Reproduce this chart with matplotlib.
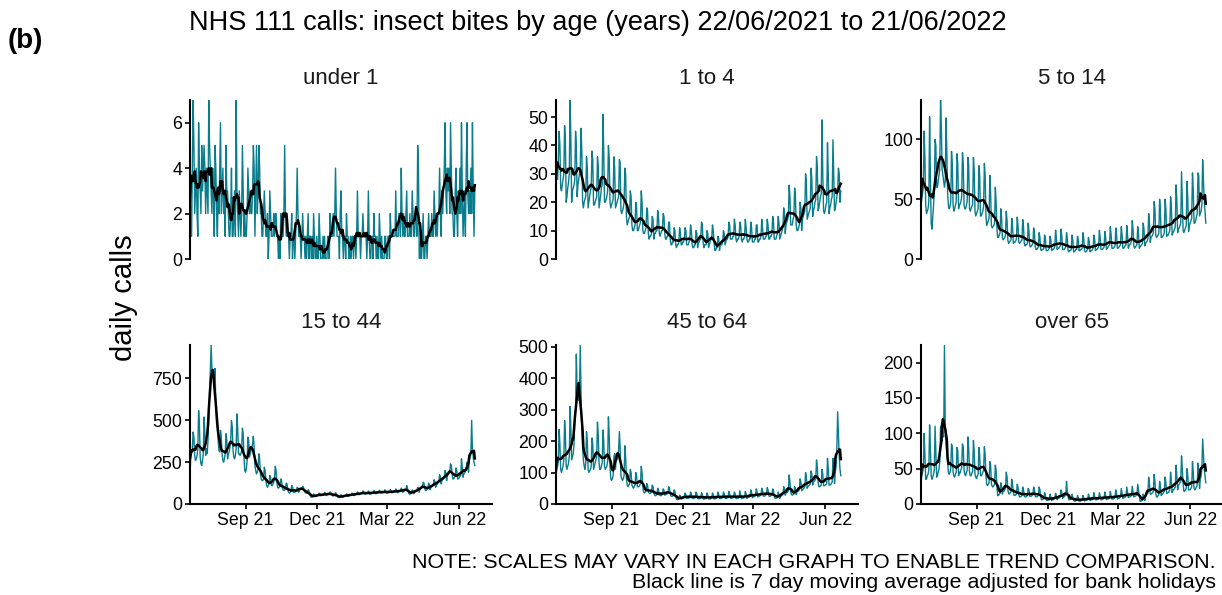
import numpy as np
import pandas as pd
import matplotlib
matplotlib.use("Agg")
import matplotlib.pyplot as plt
import matplotlib.dates as mdates

plt.rcParams['font.family'] = ['Liberation Sans', 'DejaVu Sans']

# daily NHS 111 calls, 22/06/2021 .. 21/06/2022 (one row per week, Tue..Mon)
under_1 = [
    3, 2, 1, 4, 7, 5, 2,   3, 4, 2, 1, 6, 4, 3,   2, 5, 3, 4, 5, 4, 2,   4, 3, 2, 7, 5, 4, 3,
    2, 4, 3, 1, 5, 4, 2,   1, 3, 2, 4, 6, 2, 3,   4, 2, 3, 1, 5, 3, 3,   2, 1, 1, 2, 4, 1, 1,
    2, 3, 1, 7, 3, 2, 1,   3, 2, 1, 2, 5, 3, 1,   2, 1, 1, 2, 4, 3, 2,   3, 2, 2, 3, 5, 4, 1,
    3, 5, 2, 3, 5, 4, 2,   2, 1, 1, 2, 3, 2, 1,   1, 2, 0, 1, 3, 2, 1,   1, 1, 2, 1, 2, 2, 1,
    1, 0, 1, 0, 2, 1, 1,   1, 2, 5, 2, 1, 2, 1,   1, 0, 1, 1, 2, 0, 1,   1, 0, 1, 2, 4, 2, 1,
    1, 1, 0, 1, 2, 1, 1,   0, 1, 0, 1, 2, 0, 1,   1, 0, 1, 0, 2, 1, 0,   0, 1, 0, 0, 2, 1, 0,
    0, 0, 1, 0, 1, 0, 0,   0, 1, 1, 0, 2, 1, 1,   1, 2, 1, 2, 4, 2, 1,   1, 1, 0, 2, 3, 1, 1,
    0, 1, 1, 0, 2, 1, 1,   0, 0, 1, 0, 1, 1, 0,   1, 1, 0, 1, 3, 1, 1,   1, 0, 1, 1, 2, 1, 1,
    1, 1, 0, 1, 3, 1, 0,   0, 1, 1, 0, 2, 1, 1,   0, 1, 0, 0, 2, 1, 0,   1, 0, 0, 0, 1, 1, 0,
    0, 1, 1, 0, 2, 1, 1,   1, 1, 1, 1, 3, 1, 1,   1, 2, 2, 1, 4, 2, 1,   2, 1, 1, 2, 3, 1, 1,
    1, 2, 1, 1, 3, 2, 1,   1, 2, 2, 1, 5, 4, 0,   0, 1, 0, 1, 2, 0, 0,   1, 1, 0, 1, 2, 1, 1,
    1, 2, 1, 1, 3, 2, 1,   2, 1, 2, 2, 4, 2, 1,   3, 2, 3, 4, 6, 3, 2,   4, 3, 4, 2, 6, 4, 2,
    2, 1, 1, 3, 4, 2, 1,   3, 2, 4, 2, 6, 3, 1,   2, 3, 1, 4, 6, 3, 2,   3, 2, 4, 2, 6, 3, 1,
    3,
]

age_1_4 = [
    26, 30, 28, 35, 45, 40, 25,   24, 26, 28, 30, 47, 42, 20,   22, 25, 27, 30, 56, 42, 20,
    24, 25, 26, 28, 45, 40, 22,   26, 28, 30, 32, 46, 38, 20,   18, 20, 21, 22, 36, 32, 18,
    20, 22, 24, 25, 38, 35, 19,   19, 20, 21, 22, 36, 33, 18,   20, 22, 25, 26, 51, 38, 20,
    20, 21, 22, 24, 40, 36, 20,   18, 19, 20, 21, 36, 32, 18,   19, 20, 21, 22, 35, 34, 17,
    16, 17, 18, 20, 32, 30, 15,   12, 13, 14, 15, 24, 22, 12,   10, 10, 11, 12, 20, 18, 10,
    10, 11, 12, 13, 24, 20, 10,   9, 9, 10, 11, 18, 17, 9,      7, 8, 8, 9, 15, 14, 7,
    9, 9, 10, 10, 17, 15, 9,      8, 9, 10, 10, 16, 15, 9,      7, 7, 8, 8, 13, 13, 7,
    5, 5, 6, 6, 11, 10, 5,        4, 5, 5, 6, 11, 9, 5,         5, 6, 6, 7, 11, 10, 5,
    5, 5, 6, 7, 12, 10, 5,        4, 4, 5, 5, 10, 9, 4,         6, 6, 7, 7, 13, 12, 6,
    4, 5, 5, 5, 10, 9, 4,         5, 6, 7, 7, 12, 10, 6,        3, 3, 4, 4, 8, 7, 3,
    5, 5, 5, 6, 10, 9, 5,         6, 7, 7, 8, 13, 12, 7,        7, 7, 8, 8, 14, 12, 7,
    6, 7, 7, 8, 13, 12, 7,        6, 7, 7, 8, 14, 11, 7,        6, 6, 7, 7, 13, 11, 6,
    6, 6, 7, 7, 12, 12, 6,        6, 7, 7, 8, 14, 11, 7,        7, 7, 8, 8, 14, 12, 7,
    7, 8, 8, 9, 15, 13, 7,        7, 7, 8, 9, 15, 13, 7,        8, 9, 10, 11, 18, 16, 9,
    12, 13, 14, 15, 26, 22, 12,   12, 12, 14, 15, 25, 22, 12,   10, 10, 11, 12, 20, 18, 10,
    14, 15, 16, 17, 30, 27, 14,   15, 16, 17, 18, 32, 28, 15,   17, 18, 20, 21, 36, 32, 17,
    18, 20, 22, 23, 49, 30, 17,   16, 17, 19, 20, 41, 30, 16,   18, 19, 21, 22, 42, 30, 17,
    18, 20, 22, 24, 32, 30, 20,
    24,
]

age_5_14 = [
    45, 50, 55, 60, 107, 85, 45,   38, 40, 42, 48, 119, 70, 30,   25, 35, 45, 55, 100, 95, 60,
    60, 65, 70, 75, 133, 110, 75,  70, 65, 60, 65, 118, 90, 55,   45, 42, 44, 48, 90, 80, 45,
    40, 42, 45, 48, 88, 80, 42,    45, 46, 48, 52, 89, 80, 45,    42, 42, 45, 48, 85, 78, 42,
    40, 42, 44, 46, 85, 75, 40,    36, 38, 40, 42, 78, 70, 36,    36, 38, 40, 44, 80, 70, 36,
    28, 30, 32, 34, 70, 55, 28,    26, 27, 28, 30, 60, 48, 26,    18, 18, 20, 22, 42, 35, 18,
    16, 17, 18, 20, 40, 32, 16,    13, 14, 15, 16, 34, 28, 13,    14, 14, 15, 17, 35, 28, 14,
    13, 14, 15, 16, 33, 27, 13,    11, 12, 12, 13, 30, 23, 11,    10, 11, 12, 13, 26, 22, 10,
    8, 8, 9, 10, 22, 18, 8,        7, 8, 8, 9, 20, 17, 7,         7, 7, 8, 9, 19, 16, 7,
    8, 8, 9, 10, 24, 18, 8,        9, 9, 10, 11, 25, 19, 8,       8, 8, 9, 10, 22, 17, 7,
    6, 7, 7, 8, 20, 16, 6,         6, 7, 8, 8, 19, 16, 7,         7, 8, 8, 9, 22, 17, 7,
    6, 6, 7, 8, 18, 15, 6,         7, 7, 8, 9, 20, 16, 7,         8, 8, 9, 10, 24, 18, 8,
    8, 8, 9, 10, 23, 18, 8,        9, 10, 11, 12, 27, 20, 9,      9, 9, 10, 11, 26, 20, 9,
    9, 10, 11, 12, 27, 20, 9,      9, 10, 11, 12, 28, 20, 9,      11, 12, 13, 15, 32, 25, 11,
    9, 10, 11, 12, 27, 21, 9,      10, 11, 12, 13, 30, 25, 11,    13, 14, 15, 17, 38, 30, 14,
    18, 19, 20, 22, 48, 42, 20,    18, 19, 20, 22, 50, 40, 18,    18, 19, 20, 22, 50, 42, 19,
    20, 20, 22, 24, 52, 44, 20,    22, 23, 25, 27, 62, 50, 22,    25, 26, 28, 30, 73, 48, 24,
    22, 24, 26, 28, 65, 50, 23,    28, 30, 32, 34, 72, 58, 30,    30, 32, 35, 38, 72, 70, 36,
    38, 40, 45, 83, 65, 50, 40,
    30,
]

age_15_44 = [
    180, 280, 300, 330, 430, 400, 290,   260, 270, 290, 330, 558, 480, 280,
    240, 230, 260, 300, 520, 420, 290,   330, 300, 380, 520, 680, 800, 950,
    810, 780, 760, 700, 810, 600, 480,   450, 380, 320, 310, 440, 400, 300,
    260, 250, 270, 300, 420, 380, 270,   300, 310, 340, 380, 498, 460, 320,
    280, 270, 290, 330, 538, 450, 300,   300, 290, 300, 320, 453, 420, 280,
    200, 190, 210, 260, 400, 380, 280,   300, 320, 330, 360, 405, 340, 230,
    200, 180, 190, 210, 300, 270, 180,   150, 140, 140, 150, 220, 200, 140,
    110, 100, 110, 120, 170, 160, 110,   110, 120, 130, 150, 226, 200, 130,
    100, 95, 100, 105, 150, 140, 95,     85, 80, 85, 90, 125, 120, 85,
    70, 65, 70, 75, 110, 105, 70,        70, 70, 75, 80, 100, 95, 70,
    85, 90, 95, 90, 105, 100, 80,        70, 65, 65, 70, 85, 80, 60,
    45, 40, 42, 45, 60, 55, 45,          45, 48, 50, 52, 65, 62, 50,
    50, 52, 55, 55, 70, 65, 50,          55, 55, 58, 60, 72, 70, 55,
    50, 48, 50, 55, 68, 62, 50,          40, 38, 40, 42, 55, 52, 40,
    42, 45, 48, 50, 60, 58, 45,          48, 50, 52, 55, 65, 62, 50,
    52, 55, 58, 60, 72, 68, 55,          58, 60, 62, 65, 78, 74, 60,
    58, 60, 62, 65, 78, 72, 58,          60, 62, 65, 68, 80, 76, 62,
    62, 65, 68, 70, 82, 78, 65,          65, 66, 70, 72, 85, 80, 66,
    64, 66, 70, 72, 86, 80, 66,          68, 70, 72, 75, 90, 84, 68,
    70, 72, 75, 78, 95, 88, 70,          75, 78, 82, 88, 110, 95, 72,
    60, 58, 62, 65, 85, 80, 62,          70, 72, 75, 80, 100, 95, 70,
    90, 92, 95, 100, 130, 125, 95,       80, 82, 88, 92, 125, 110, 85,
    100, 102, 108, 112, 145, 135, 100,   115, 120, 125, 130, 175, 160, 120,
    140, 145, 150, 155, 200, 185, 140,   170, 175, 185, 190, 240, 230, 180,
    150, 150, 160, 165, 215, 200, 150,   150, 155, 165, 170, 270, 220, 160,
    180, 185, 195, 205, 250, 240, 190,   260, 280, 300, 500, 330, 280, 250,
    230,
]

age_45_64 = [
    90, 110, 120, 135, 237, 190, 110,    100, 110, 120, 140, 265, 220, 120,
    110, 120, 130, 150, 310, 240, 140,   150, 160, 190, 260, 300, 476, 360,
    330, 330, 340, 505, 350, 240, 180,   140, 120, 110, 130, 230, 200, 110,
    100, 105, 110, 120, 210, 190, 110,   120, 130, 140, 150, 260, 220, 130,
    110, 110, 120, 130, 235, 200, 120,   110, 115, 120, 135, 277, 220, 120,
    80, 75, 80, 90, 150, 160, 110,       150, 140, 150, 170, 230, 180, 90,
    80, 75, 80, 90, 185, 150, 80,        60, 55, 60, 65, 110, 100, 60,
    55, 50, 55, 60, 100, 90, 55,         55, 55, 60, 65, 120, 100, 55,
    38, 35, 38, 40, 65, 60, 38,          35, 33, 35, 38, 60, 55, 35,
    28, 26, 28, 30, 50, 45, 28,          28, 26, 28, 30, 48, 44, 28,
    30, 30, 32, 34, 55, 50, 32,          25, 24, 25, 28, 45, 40, 25,
    15, 14, 15, 16, 28, 25, 15,          18, 17, 18, 20, 35, 30, 18,
    18, 18, 20, 20, 38, 32, 18,          18, 17, 19, 20, 38, 32, 18,
    17, 16, 18, 19, 36, 30, 17,          15, 16, 17, 18, 35, 28, 16,
    16, 16, 18, 19, 35, 30, 16,          16, 17, 18, 20, 38, 30, 17,
    17, 18, 19, 20, 38, 32, 18,          17, 18, 19, 21, 40, 32, 18,
    18, 18, 20, 21, 38, 32, 18,          17, 18, 19, 20, 42, 30, 17,
    18, 18, 20, 21, 40, 32, 18,          20, 21, 22, 24, 45, 36, 20,
    22, 23, 25, 26, 48, 38, 22,          24, 25, 27, 28, 50, 42, 25,
    25, 26, 28, 30, 52, 45, 26,          24, 25, 27, 28, 48, 42, 24,
    18, 18, 19, 20, 38, 32, 18,          25, 26, 28, 30, 55, 48, 28,
    35, 36, 38, 42, 92, 70, 38,          30, 28, 30, 32, 55, 48, 30,
    38, 40, 42, 45, 80, 70, 42,          45, 48, 50, 55, 100, 85, 50,
    55, 58, 60, 65, 105, 95, 60,         70, 72, 75, 80, 140, 115, 70,
    55, 55, 58, 60, 110, 95, 58,         58, 60, 62, 65, 145, 110, 60,
    60, 62, 65, 70, 145, 120, 65,        100, 120, 180, 293, 220, 150, 110,
    90,
]

over_65 = [
    30, 40, 45, 50, 100, 70, 35,   35, 40, 42, 48, 112, 80, 40,   35, 38, 42, 48, 110, 75, 38,
    40, 45, 50, 60, 110, 110, 90,  100, 95, 225, 110, 85, 70, 60,  45, 42, 45, 50, 85, 80, 45,
    40, 38, 42, 45, 80, 75, 40,    45, 44, 48, 52, 85, 80, 48,    42, 40, 44, 48, 95, 78, 45,
    40, 40, 44, 46, 90, 75, 42,    38, 36, 40, 42, 80, 70, 40,    40, 42, 45, 48, 81, 70, 40,
    28, 26, 28, 30, 60, 55, 28,    25, 24, 26, 28, 55, 48, 25,    12, 12, 14, 15, 30, 25, 14,
    18, 18, 20, 22, 45, 38, 20,    15, 14, 16, 17, 35, 28, 16,    12, 12, 13, 14, 28, 24, 13,
    10, 10, 11, 12, 24, 20, 11,    10, 10, 11, 12, 22, 20, 11,    11, 11, 12, 13, 24, 20, 11,
    10, 10, 11, 12, 24, 20, 10,    6, 6, 7, 8, 16, 12, 6,         5, 5, 6, 6, 14, 10, 5,
    6, 6, 7, 8, 15, 12, 6,         8, 8, 9, 10, 20, 16, 8,        10, 10, 12, 12, 32, 18, 10,
    6, 6, 7, 7, 14, 10, 6,         4, 4, 5, 5, 12, 9, 4,          4, 4, 5, 6, 12, 9, 4,
    5, 5, 6, 6, 14, 10, 5,         6, 6, 6, 7, 16, 10, 6,         6, 6, 7, 7, 16, 11, 6,
    6, 7, 7, 8, 17, 12, 6,         7, 7, 8, 8, 18, 12, 7,         7, 7, 8, 9, 20, 14, 7,
    8, 8, 9, 10, 22, 15, 8,        9, 9, 10, 11, 24, 17, 9,       10, 10, 11, 12, 25, 18, 10,
    11, 11, 12, 13, 28, 20, 11,    4, 4, 5, 5, 14, 10, 5,         12, 12, 14, 15, 38, 28, 14,
    14, 15, 16, 18, 42, 32, 15,    10, 10, 12, 13, 32, 25, 12,    14, 14, 16, 18, 38, 30, 15,
    16, 16, 18, 20, 45, 32, 16,    20, 20, 22, 24, 55, 40, 20,    26, 28, 30, 32, 68, 50, 28,
    18, 18, 20, 22, 50, 40, 20,    20, 20, 22, 24, 60, 45, 22,    20, 22, 24, 26, 58, 45, 22,
    35, 40, 50, 92, 70, 50, 40,
    30,
]

panels = ["under 1", "1 to 4", "5 to 14", "15 to 44", "45 to 64", "over 65"]
series = [under_1, age_1_4, age_5_14, age_15_44, age_45_64, over_65]
y_steps = [2, 10, 50, 250, 100, 50]

dates = pd.date_range("2021-06-22", periods=365, freq="D")

W, H = 1222, 595
fig = plt.figure(figsize=[W / 100, H / 100], dpi=100)

teal = "#0a7d8c"
lefts = [190, 556, 921]
tops = [100, 345]
aw, ah = 302, 159

for i, (name, vals, step) in enumerate(zip(panels, series, y_steps)):
    row, col = divmod(i, 3)
    x0, y0 = lefts[col], tops[row]
    ax = fig.add_axes([x0 / W, 1 - (y0 + ah) / H, aw / W, ah / H])
    s = pd.Series(vals, index=dates, dtype=float)
    avg = s.rolling(7, center=True, min_periods=1).mean()
    ax.plot(s.index, s.values, color=teal, lw=1.0)
    ax.plot(avg.index, avg.values, color="black", lw=1.8)
    ax.set_xlim(dates[0], dates[0] + pd.Timedelta(days=386))
    ax.set_ylim(0, max(vals))
    ax.yaxis.set_major_locator(plt.MultipleLocator(step))
    for sp in ["top", "right"]:
        ax.spines[sp].set_visible(False)
    ax.spines["left"].set_linewidth(1.5)
    ax.spines["bottom"].set_linewidth(1.5)
    ax.tick_params(axis="both", direction="out", length=3.5, width=1.2,
                   labelsize=12.8, pad=2, colors="black")
    if row == 0:
        ax.spines["bottom"].set_visible(False)
        ax.set_xticks([])
    else:
        ax.xaxis.set_major_locator(mdates.MonthLocator(bymonth=[3, 6, 9, 12]))
        ax.xaxis.set_major_formatter(mdates.DateFormatter("%b %y"))
    ax.patch.set_alpha(0)
    fig.text((x0 + aw / 2) / W, 1 - (y0 - 22) / H, name, ha="center", va="center",
             fontsize=16, color="#1a1a1a")

fig.text(598 / W, 1 - 23 / H, "NHS 111 calls: insect bites by age (years) 22/06/2021 to 21/06/2022",
         ha="center", va="center", fontsize=19.5)
fig.text(8 / W, 1 - 41 / H, "(b)", ha="left", va="center", fontsize=20, fontweight="bold")
fig.text(124 / W, 1 - 298 / H, "daily calls", ha="center", va="center", fontsize=21,
         rotation=90)
fig.text(1216 / W, 1 - 562 / H, "NOTE: SCALES MAY VARY IN EACH GRAPH TO ENABLE TREND COMPARISON.",
         ha="right", va="center", fontsize=15.4)
fig.text(1216 / W, 1 - 583 / H, "Black line is 7 day moving average adjusted for bank holidays",
         ha="right", va="center", fontsize=15.4)

fig.savefig("out.png", dpi=100)
